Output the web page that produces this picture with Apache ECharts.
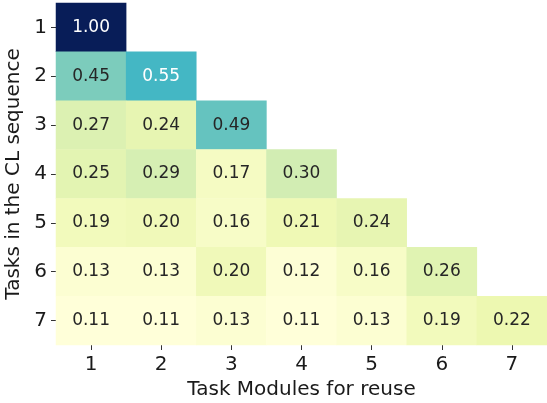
<!DOCTYPE html>
<html>
<head>
<meta charset="utf-8">
<script src="https://cdn.jsdelivr.net/npm/echarts@6/dist/echarts.min.js"></script>
<style>html,body{margin:0;padding:0;background:#fff;}#c{width:547px;height:403px;}</style>
</head>
<body>
<div id="c"></div>
<script>
const xCategories = ['1','2','3','4','5','6','7'];
const yCategories = ['1','2','3','4','5','6','7'];
const row1 = [1.00];
const row2 = [0.45, 0.55];
const row3 = [0.27, 0.24, 0.49];
const row4 = [0.25, 0.29, 0.17, 0.30];
const row5 = [0.19, 0.20, 0.16, 0.21, 0.24];
const row6 = [0.13, 0.13, 0.20, 0.12, 0.16, 0.26];
const row7 = [0.11, 0.11, 0.13, 0.11, 0.13, 0.19, 0.22];
const rows = [row1, row2, row3, row4, row5, row6, row7];

const data = [];
rows.forEach((r, yi) => r.forEach((v, xi) => {
  data.push({value: [xi, yi, v], label: {color: v > 0.5 ? '#ffffff' : '#262626'}});
}));

const FONT = 'DejaVu Sans';
const chart = echarts.init(document.getElementById('c'), null, {renderer: 'canvas'});
chart.setOption({
  animation: false,
  backgroundColor: '#ffffff',
  grid: {left: 56, top: 3, width: 491, height: 342, containLabel: false, outerBoundsMode: 'none'},
  xAxis: {
    type: 'category', data: xCategories,
    name: 'Task Modules for reuse', nameLocation: 'middle', nameGap: 34,
    nameTextStyle: {fontFamily: FONT, fontSize: 20, color: '#1a1a1a'},
    axisLine: {show: false},
    axisTick: {show: true, alignWithLabel: true, length: 5, lineStyle: {color: '#333', width: 1}},
    axisLabel: {fontFamily: FONT, fontSize: 20, color: '#1a1a1a', margin: 10},
    splitLine: {show: false}
  },
  yAxis: {
    type: 'category', data: yCategories, inverse: true,
    name: 'Tasks in the CL sequence', nameLocation: 'middle', nameGap: 30,
    nameTextStyle: {fontFamily: FONT, fontSize: 20, color: '#1a1a1a'},
    axisLine: {show: false},
    axisTick: {show: true, alignWithLabel: true, length: 5, lineStyle: {color: '#333', width: 1}},
    axisLabel: {fontFamily: FONT, fontSize: 20, color: '#1a1a1a', margin: 9},
    splitLine: {show: false}
  },
  visualMap: {
    show: false, type: 'continuous', min: 0.11, max: 1.0, dimension: 2,
    inRange: {color: ['#ffffd9','#edf8b1','#c7e9b4','#7fcdbb','#41b6c4','#1d91c0','#225ea8','#253494','#081d58']}
  },
  series: [{
    type: 'heatmap',
    data: data,
    label: {show: true, fontFamily: FONT, fontSize: 17, formatter: p => p.value[2].toFixed(2)},
    itemStyle: {borderWidth: 0},
    emphasis: {disabled: true}
  }]
});
</script>
</body>
</html>
